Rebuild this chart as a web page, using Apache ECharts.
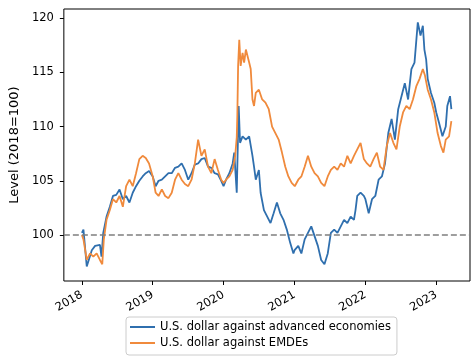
<!DOCTYPE html>
<html><head><meta charset="utf-8">
<script src="https://cdn.jsdelivr.net/npm/echarts@6/dist/echarts.min.js"></script>
<style>html,body{margin:0;padding:0;background:#fff}#c{width:474px;height:358px}</style>
</head><body><div id="c"></div>
<script>
var advDates = ['2018-01-01','2018-01-09','2018-01-26','2018-02-21','2018-03-10','2018-04-04','2018-04-12','2018-04-21','2018-05-08','2018-05-25','2018-06-10','2018-06-27','2018-07-14','2018-07-31','2018-08-17','2018-09-03','2018-09-20','2018-10-07','2018-10-24','2018-11-10','2018-11-26','2018-12-13',
'2019-01-01','2019-01-16','2019-01-31','2019-02-17','2019-03-06','2019-03-23','2019-04-09','2019-04-26','2019-05-13','2019-05-30','2019-06-16','2019-07-03','2019-07-20','2019-08-06','2019-08-23','2019-09-09','2019-09-26','2019-10-13','2019-10-30','2019-11-16','2019-12-03','2019-12-20',
'2020-01-01','2020-01-14','2020-01-31','2020-02-17','2020-02-25','2020-03-09','2020-03-19','2020-03-26','2020-04-08','2020-04-25','2020-05-12','2020-05-29','2020-06-06','2020-06-15','2020-07-01','2020-07-10','2020-07-27','2020-08-13','2020-08-30','2020-09-15','2020-10-02','2020-10-19','2020-11-05','2020-11-22','2020-12-09','2020-12-26',
'2021-01-01','2021-01-20','2021-02-05','2021-02-22','2021-03-11','2021-03-28','2021-04-14','2021-05-01','2021-05-18','2021-06-04','2021-06-21','2021-07-07','2021-07-24','2021-08-10','2021-08-27','2021-09-13','2021-09-30','2021-10-17','2021-11-03','2021-11-11','2021-11-20','2021-12-07','2021-12-24',
'2022-01-01','2022-01-18','2022-02-04','2022-02-21','2022-03-10','2022-03-27','2022-04-12','2022-04-29','2022-05-16','2022-06-02','2022-06-19','2022-07-06','2022-07-23','2022-08-09','2022-08-26','2022-09-11','2022-09-28','2022-10-12','2022-10-24','2022-11-01','2022-11-10','2022-11-18','2022-12-05','2022-12-22',
'2023-01-01','2023-01-16','2023-02-02','2023-02-19','2023-02-27','2023-03-13','2023-03-20'];
var advValues = [100.2,100.5,97.1,98.6,99.0,99.1,98.0,100.2,101.7,102.6,103.6,103.7,104.2,103.3,103.6,103.0,103.9,104.5,105.0,105.4,105.7,105.9,
105.4,104.5,105.0,105.1,105.4,105.7,105.7,106.2,106.3,106.6,106.0,105.1,105.7,106.5,106.6,107.0,107.1,106.3,106.2,105.7,105.6,105.0,
104.5,105.1,105.7,106.6,107.6,103.9,111.9,108.5,109.1,108.8,109.1,107.3,106.3,105.1,106.0,103.9,102.3,101.7,101.1,102.0,103.0,102.0,101.4,100.5,99.3,98.3,
98.6,99.0,98.3,99.6,100.2,100.8,99.9,99.0,97.7,97.3,98.3,100.2,100.5,100.2,100.8,101.4,101.1,101.7,101.4,102.3,103.6,103.9,103.6,
103.3,102.0,103.3,103.6,105.1,105.4,106.6,109.4,110.7,108.8,111.6,112.8,114.0,112.5,115.3,115.9,119.6,118.4,119.3,117.1,116.2,114.4,113.1,112.2,
111.3,110.3,109.1,110.0,111.9,112.8,111.6];

var emdeDates = ['2018-01-01','2018-01-09','2018-01-26','2018-02-12','2018-03-01','2018-03-18','2018-04-04','2018-04-16','2018-04-24','2018-05-08','2018-05-25','2018-06-10','2018-06-27','2018-07-14','2018-07-31','2018-08-17','2018-09-03','2018-09-20','2018-10-07','2018-10-24','2018-11-10','2018-11-26','2018-12-13',
'2019-01-01','2019-01-16','2019-01-31','2019-02-17','2019-03-06','2019-03-23','2019-04-09','2019-04-26','2019-05-13','2019-05-30','2019-06-16','2019-07-03','2019-07-20','2019-08-06','2019-08-23','2019-09-09','2019-09-26','2019-10-13','2019-10-30','2019-11-16','2019-12-03','2019-12-20',
'2020-01-01','2020-01-14','2020-01-31','2020-02-17','2020-03-01','2020-03-09','2020-03-12','2020-03-16','2020-03-22','2020-03-29','2020-04-08','2020-04-16','2020-04-25','2020-05-12','2020-05-20','2020-05-29','2020-06-06','2020-06-15','2020-07-01','2020-07-18','2020-08-04','2020-08-21','2020-09-07','2020-09-24','2020-10-11','2020-10-28','2020-11-14','2020-11-30','2020-12-17',
'2021-01-02','2021-01-20','2021-02-05','2021-02-22','2021-03-11','2021-03-28','2021-04-14','2021-05-01','2021-05-18','2021-06-04','2021-06-21','2021-07-07','2021-07-24','2021-08-10','2021-08-27','2021-09-13','2021-09-30','2021-10-17','2021-11-03','2021-11-20','2021-12-07','2021-12-24',
'2022-01-09','2022-01-26','2022-02-12','2022-03-01','2022-03-18','2022-04-04','2022-04-21','2022-05-08','2022-05-25','2022-06-10','2022-06-27','2022-07-14','2022-07-31','2022-08-17','2022-09-03','2022-09-20','2022-10-07','2022-10-24','2022-11-04','2022-11-18','2022-12-05','2022-12-22',
'2023-01-08','2023-01-25','2023-02-07','2023-02-19','2023-03-08','2023-03-20'];
var emdeValues = [100.0,99.6,97.7,98.3,98.0,98.3,97.7,97.3,99.6,101.4,102.3,103.3,103.0,103.6,102.6,104.5,105.1,104.5,105.7,107.0,107.3,107.1,106.6,
105.4,103.9,103.6,104.2,103.6,103.4,103.9,105.1,105.7,105.1,104.7,104.5,105.1,106.6,108.8,107.3,107.9,106.3,105.7,107.0,106.0,105.1,
104.8,105.1,105.4,106.0,107.3,109.0,111.0,115.6,118.0,115.6,116.8,115.9,117.1,115.9,115.3,112.5,111.9,113.1,113.4,112.5,112.2,111.6,110.0,109.4,108.8,107.6,106.3,105.4,104.8,
104.5,105.1,105.4,106.3,107.3,106.3,105.7,105.4,104.8,104.5,105.4,106.0,106.3,106.0,106.6,106.3,107.3,106.6,107.3,107.9,108.5,107.0,
106.6,106.3,107.0,107.6,106.3,106.0,108.2,109.4,108.5,107.9,110.0,111.3,111.9,111.6,112.5,113.7,114.4,115.3,114.7,113.4,112.5,111.3,
109.4,108.2,107.6,108.8,109.1,110.5];

var yTicks = [100, 105, 110, 115, 120];
var xTickYears = [2018, 2019, 2020, 2021, 2022, 2023];
var seriesNames = ['U.S. dollar against advanced economies', 'U.S. dollar against EMDEs'];

function ts(s) { var p = s.split('-'); return Date.UTC(+p[0], +p[1] - 1, +p[2]); }
function zip(d, v) { return d.map(function (x, i) { return [ts(x), v[i]]; }); }
var xTicks = xTickYears.map(function (y) { return Date.UTC(y, 0, 1); });
var F = 'DejaVu Sans';

var chart = echarts.init(document.getElementById('c'), null, { renderer: 'canvas' });
chart.setOption({
  animation: false,
  backgroundColor: '#fff',
  textStyle: { fontFamily: F },
  grid: { left: 57, right: 4, top: 9, bottom: 77, show: true, borderColor: '#000', borderWidth: 1, backgroundColor: 'transparent' },
  xAxis: {
    type: 'value',
    min: Date.UTC(2017, 8, 30),
    max: Date.UTC(2023, 5, 24),
    axisLine: { show: false },
    splitLine: { show: false },
    axisTick: { show: true, length: 4, lineStyle: { color: '#000' }, customValues: xTicks },
    axisLabel: {
      customValues: xTicks, rotate: 30, margin: 13, color: '#000', fontSize: 11.5, fontFamily: F,
      formatter: function (v) { return String(new Date(v).getUTCFullYear()); }
    }
  },
  yAxis: {
    type: 'value',
    min: 95.76, max: 120.84,
    name: 'Level (2018=100)', nameLocation: 'middle', nameGap: 37,
    nameTextStyle: { fontSize: 13, color: '#000', fontFamily: F },
    axisLine: { show: false },
    splitLine: { show: false },
    axisTick: { show: true, length: 4, lineStyle: { color: '#000' }, customValues: yTicks },
    axisLabel: { customValues: yTicks, margin: 10, color: '#000', fontSize: 11.5, fontFamily: F }
  },
  legend: {
    orient: 'vertical', left: 126, top: 317,
    icon: 'rect', itemWidth: 25, itemHeight: 2, itemGap: 4,
    padding: [4, 6, 6, 4],
    borderColor: '#ccc', borderWidth: 1, borderRadius: 3,
    textStyle: { fontSize: 11.5, color: '#000', fontFamily: F },
    data: seriesNames
  },
  series: [
    {
      name: seriesNames[0], type: 'line', data: zip(advDates, advValues),
      symbol: 'none', lineStyle: { width: 1.8, color: '#2f6fae' }, itemStyle: { color: '#2f6fae' },
      markLine: {
        silent: true, symbol: 'none', label: { show: false },
        lineStyle: { color: '#7f7f7f', type: [6, 3], width: 1.5 },
        data: [{ yAxis: 100 }]
      }
    },
    {
      name: seriesNames[1], type: 'line', data: zip(emdeDates, emdeValues),
      symbol: 'none', lineStyle: { width: 1.8, color: '#f08a3c' }, itemStyle: { color: '#f08a3c' }
    }
  ]
});
</script></body></html>
